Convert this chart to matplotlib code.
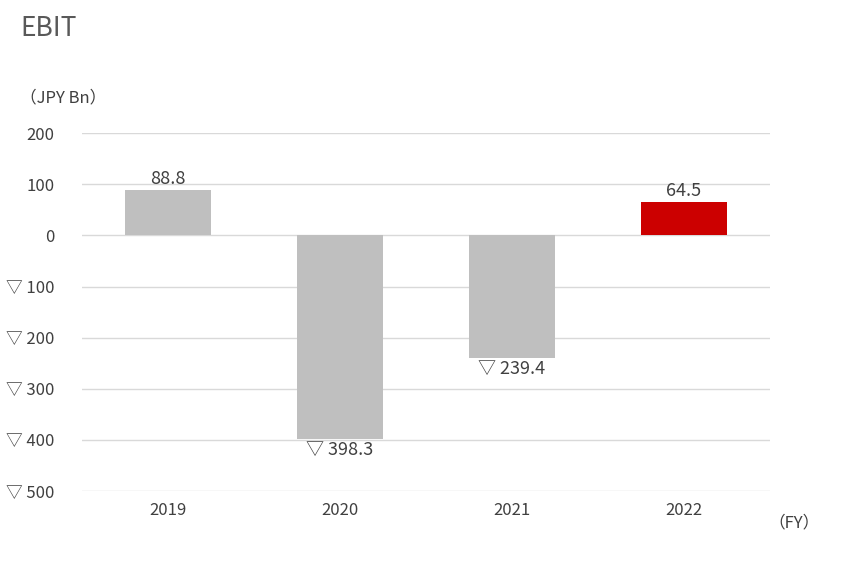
import matplotlib

matplotlib.use("Agg")
import matplotlib.pyplot as plt

plt.rcParams["font.family"] = ["Noto Sans CJK JP", "DejaVu Sans"]

years = ["2019", "2020", "2021", "2022"]
ebit = [88.8, -398.3, -239.4, 64.5]
colors = ["#bfbfbf", "#bfbfbf", "#bfbfbf", "#cc0000"]
yticks = [200, 100, 0, -100, -200, -300, -400, -500]


def fmt(v, dec=False):
    s = f"{abs(v):.1f}" if dec else f"{abs(v):.0f}"
    return f"▽ {s}" if v < 0 else s


fig = plt.figure(figsize=(8.63, 5.62), dpi=100)
ax = fig.add_axes([0.095, 0.126, 0.797, 0.637])

x = range(len(years))
ax.bar(x, ebit, width=0.5, color=colors, zorder=3)
for i, v in enumerate(ebit):
    off = 22 if v > 0 else -22
    ax.text(i, v + off, fmt(v, dec=True), ha="center", va="center",
            fontsize=13, color="#404040")

ax.set_xlim(-0.5, 3.5)
ax.set_ylim(-500, 200)
ax.set_yticks(yticks)
ax.set_yticklabels([fmt(t) for t in yticks], fontsize=12, color="#404040")
ax.set_xticks(list(x))
ax.set_xticklabels(years, fontsize=12, color="#404040")
ax.yaxis.grid(True, color="#d9d9d9", lw=1, zorder=0)
ax.tick_params(length=0, pad=8)
ax.tick_params(axis="y", pad=20)
for s in ax.spines.values():
    s.set_visible(False)

fig.text(20 / 863, 1 - 28 / 562, "EBIT", fontsize=19, color="#595959", va="center")
fig.text(20 / 863, 1 - 98 / 562, "（JPY Bn）", fontsize=12, color="#404040", va="center")
fig.text(768 / 863, 1 - 523 / 562, "（FY）", fontsize=12, color="#404040", va="center")

fig.savefig("out.png")
